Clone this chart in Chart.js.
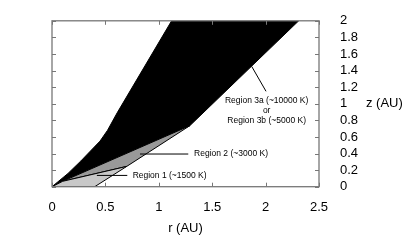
<!DOCTYPE html>
<html>
<head>
<meta charset="utf-8">
<script src="https://cdn.jsdelivr.net/npm/chart.js@4.4.1/dist/chart.umd.min.js"></script>
<style>
  body { margin: 0; background: #fff; }
</style>
</head>
<body>
<canvas id="c" width="415" height="246"></canvas>
<script>
// tick values and labels
const xTicks = [0, 0.5, 1, 1.5, 2, 2.5];
const xTickLabels = ['0', '0.5', '1', '1.5', '2', '2.5'];
const yTicks = [0, 0.2, 0.4, 0.6, 0.8, 1, 1.2, 1.4, 1.6, 1.8, 2];
const yTickLabels = ['0', '0.2', '0.4', '0.6', '0.8', '1', '1.2', '1.4', '1.6', '1.8', '2'];

// region outlines (r, z) in AU
const region3 = [
  {x: 0, y: 0}, {x: 0.15, y: 0.16}, {x: 0.27, y: 0.31}, {x: 0.36, y: 0.43},
  {x: 0.45, y: 0.55}, {x: 0.52, y: 0.68}, {x: 0.61, y: 0.89}, {x: 1.12, y: 2},
  {x: 2.31, y: 2}, {x: 1.29, y: 0.735}, {x: 0.1, y: 0.065}, {x: 0, y: 0}
];
const region2 = [
  {x: 0.1, y: 0.065}, {x: 0.7, y: 0.245}, {x: 1.29, y: 0.735}, {x: 0.1, y: 0.065}
];
const region1 = [
  {x: 0, y: 0}, {x: 0.4, y: 0}, {x: 0.7, y: 0.245}, {x: 0.1, y: 0.065}, {x: 0, y: 0}
];

// leader lines from the labels into the regions
const leader1 = [{x: 0.42, y: 0.136}, {x: 0.705, y: 0.136}];
const leader2 = [{x: 0.824, y: 0.394}, {x: 1.276, y: 0.394}];
const leader3 = [{x: 1.87, y: 1.45}, {x: 2.004, y: 1.15}];

// label texts and where they sit (data units)
const labelTexts = ['Region 1 (~1500 K)', 'Region 2 (~3000 K)', 'Region 3a (~10000 K)', 'or', 'Region 3b (~5000 K)'];
const labelAt = [[0.755, 0.136, 'left'], [1.33, 0.394, 'left'], [2.01, 1.043, 'center'], [2.01, 0.92, 'center'], [2.01, 0.793, 'center']];

const FONT = "'Liberation Sans', Arial, Helvetica, sans-serif";

function polygon(data, color, order) {
  return {
    data: data,
    backgroundColor: color,
    borderColor: '#000',
    borderWidth: 1,
    fill: 'shape',
    pointRadius: 0,
    tension: 0,
    order: order
  };
}

function leader(data) {
  return {
    data: data,
    borderColor: '#000',
    borderWidth: 1,
    fill: false,
    pointRadius: 0,
    order: 0
  };
}

// frame, inner ticks, annotations and the z title
const decor = {
  id: 'decor',
  afterDatasetsDraw(chart) {
    const {ctx, chartArea: a, scales: {x, y}} = chart;
    ctx.save();
    ctx.strokeStyle = '#777';
    ctx.lineWidth = 1;
    ctx.beginPath();
    x.ticks.forEach(t => {
      const px = Math.round(x.getPixelForValue(t.value)) + 0.5;
      ctx.moveTo(px, a.bottom); ctx.lineTo(px, a.bottom - 4);
      ctx.moveTo(px, a.top); ctx.lineTo(px, a.top + 4);
    });
    y.ticks.forEach(t => {
      const py = Math.round(y.getPixelForValue(t.value)) + 0.5;
      ctx.moveTo(a.left, py); ctx.lineTo(a.left + 4, py);
      ctx.moveTo(a.right, py); ctx.lineTo(a.right - 4, py);
    });
    ctx.stroke();
    ctx.lineWidth = 1.3;
    ctx.strokeRect(a.left, a.top, a.width, a.height);

    ctx.fillStyle = '#000';
    ctx.textBaseline = 'middle';
    ctx.font = '8.5px ' + FONT;
    labelTexts.forEach((txt, i) => {
      const [lx, ly, al] = labelAt[i];
      ctx.textAlign = al;
      ctx.fillText(txt, x.getPixelForValue(lx), y.getPixelForValue(ly));
    });

    ctx.font = '13px ' + FONT;
    ctx.textAlign = 'left';
    ctx.fillText('z (AU)', a.right + 47, (a.top + a.bottom) / 2);
    ctx.restore();
  }
};

new Chart(document.getElementById('c'), {
  type: 'line',
  data: {
    datasets: [
      leader(leader1),
      leader(leader2),
      leader(leader3),
      polygon(region1, '#c8c8c8', 1),
      polygon(region2, '#999999', 2),
      polygon(region3, '#000000', 3)
    ]
  },
  options: {
    responsive: false,
    animation: false,
    layout: { padding: { left: 52, top: 14, right: 0, bottom: 0 } },
    plugins: { legend: { display: false }, tooltip: { enabled: false } },
    scales: {
      x: {
        type: 'linear',
        min: 0,
        max: 2.5,
        afterBuildTicks: s => { s.ticks = xTicks.map(v => ({value: v})); },
        afterFit: s => { s.height = 59.3; },
        grid: { display: false },
        border: { display: false },
        ticks: {
          padding: 5,
          autoSkip: false,
          color: '#000',
          font: { family: FONT, size: 13 },
          maxRotation: 0,
          callback: (v, i) => xTickLabels[i]
        },
        title: {
          display: true,
          text: 'r (AU)',
          color: '#000',
          font: { family: FONT, size: 13 },
          padding: { top: 0, bottom: 10 }
        }
      },
      y: {
        type: 'linear',
        position: 'right',
        min: 0,
        max: 2,
        afterBuildTicks: s => { s.ticks = yTicks.map(v => ({value: v})); },
        afterFit: s => { s.width = 96; },
        grid: { display: false },
        border: { display: false },
        ticks: {
          padding: 13,
          autoSkip: false,
          color: '#000',
          font: { family: FONT, size: 13 },
          callback: (v, i) => yTickLabels[i]
        }
      }
    }
  },
  plugins: [decor]
});
</script>
</body>
</html>
